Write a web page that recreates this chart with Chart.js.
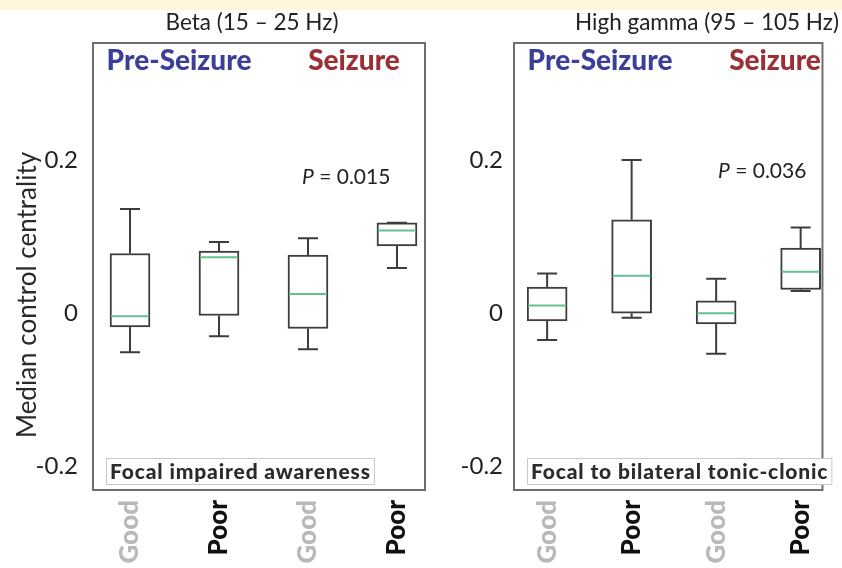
<!DOCTYPE html>
<html>
<head>
<meta charset="utf-8">
<script src="https://cdn.jsdelivr.net/npm/chart.js@4.4.1/dist/chart.umd.min.js"></script>
<style>
  html, body { margin: 0; padding: 0; background: #fff; }
  #page { position: relative; width: 842px; height: 568px; overflow: hidden; }
  .band { position: absolute; left: 0; top: 0; width: 842px; height: 10px; background: #fdf5dc; }
  .panel { position: absolute; top: 0; height: 568px; }
</style>
</head>
<body>
<div id="page">
  <div class="band"></div>
  <div class="panel" style="left:0;width:440px"><canvas id="beta" width="440" height="568"></canvas></div>
  <div class="panel" style="left:440px;width:402px"><canvas id="gamma" width="402" height="568"></canvas></div>
</div>
<script>
const categories = ['Good', 'Poor', 'Good', 'Poor'];
const yTicks = [-0.2, 0, 0.2];

// Beta (15 - 25 Hz)
const betaLow  = [-0.051, -0.030, -0.047, 0.059];
const betaQ1   = [-0.018, -0.003, -0.020, 0.088];
const betaMed  = [-0.004,  0.073,  0.025, 0.108];
const betaQ3   = [ 0.078,  0.081,  0.076, 0.118];
const betaHigh = [ 0.136,  0.093,  0.098, 0.118];

// High gamma (95 - 105 Hz)
const gammaLow  = [-0.035, -0.006, -0.053, 0.029];
const gammaQ1   = [-0.010,  0.000, -0.014, 0.031];
const gammaMed  = [ 0.010,  0.049,  0.000, 0.054];
const gammaQ3   = [ 0.034,  0.122,  0.016, 0.085];
const gammaHigh = [ 0.052,  0.200,  0.045, 0.112];

const COLORS = {
  box: '#3d3d3d',
  median: '#63c28c',
  frame: '#6e6e6e',
  pre: '#3c3f97',
  seizure: '#9b2f36',
  good: '#b9b9b9',
  poor: '#111111',
  text: '#222222',
};
const SANS = 'Lato, "Open Sans", sans-serif';
const HEAVY = 'Lato, "Open Sans", sans-serif';

const panelDecor = {
  id: 'panelDecor',
  afterDatasetsDraw(chart, args, o) {
    const { ctx, chartArea: a, scales: { x, y } } = chart;
    ctx.save();
    // whiskers and caps
    ctx.strokeStyle = COLORS.box;
    ctx.lineWidth = 2;
    o.low.forEach((lo, i) => {
      const px = x.getPixelForValue(i + 1);
      const yLo = y.getPixelForValue(lo);
      const yHi = y.getPixelForValue(o.high[i]);
      const yQ1 = y.getPixelForValue(o.q1[i]);
      const yQ3 = y.getPixelForValue(o.q3[i]);
      ctx.beginPath();
      ctx.moveTo(px, yQ3); ctx.lineTo(px, yHi);
      ctx.moveTo(px - 10, yHi); ctx.lineTo(px + 10, yHi);
      ctx.moveTo(px, yQ1); ctx.lineTo(px, yLo);
      ctx.moveTo(px - 10, yLo); ctx.lineTo(px + 10, yLo);
      ctx.stroke();
    });
    // medians
    ctx.strokeStyle = COLORS.median;
    o.med.forEach((m, i) => {
      const px = x.getPixelForValue(i + 1);
      const py = y.getPixelForValue(m);
      ctx.beginPath();
      ctx.moveTo(px - 19, py); ctx.lineTo(px + 19, py);
      ctx.stroke();
    });
    // frame
    ctx.strokeStyle = COLORS.frame;
    ctx.lineWidth = 2;
    ctx.strokeRect(a.left, a.top, a.right - a.left, a.bottom - a.top);

    // title
    ctx.fillStyle = COLORS.text;
    ctx.textAlign = 'center';
    ctx.textBaseline = 'middle';
    ctx.font = `22.5px ${SANS}`;
    ctx.fillText(o.title, o.titleX, 23);

    // group headers
    ctx.font = `900 28px ${HEAVY}`;
    ctx.fillStyle = COLORS.pre;
    ctx.fillText('Pre-Seizure', a.left + 86, 61);
    ctx.fillStyle = COLORS.seizure;
    ctx.fillText('Seizure', a.left + 261, 61);

    // p value
    ctx.textAlign = 'left';
    ctx.fillStyle = COLORS.text;
    ctx.font = `italic 21px ${SANS}`;
    const px0 = a.left + o.pX;
    ctx.fillText('P', px0, o.pY);
    const pw = ctx.measureText('P').width;
    ctx.font = `21px ${SANS}`;
    ctx.fillText(' = ' + o.pValue, px0 + pw, o.pY);

    // seizure type label
    ctx.font = `900 21px ${HEAVY}`;
    ctx.letterSpacing = '0.85px';
    const tw = ctx.measureText(o.label).width;
    const bx = a.left + 13, by = a.bottom - 32;
    ctx.fillStyle = '#fff';
    ctx.fillRect(bx, by, tw + 7, 26);
    ctx.strokeStyle = '#c9c9c9';
    ctx.lineWidth = 1;
    ctx.strokeRect(bx + 0.5, by + 0.5, tw + 7, 26);
    ctx.fillStyle = '#2b2b2b';
    ctx.fillText(o.label, bx + 4, by + 14);
    ctx.letterSpacing = '0px';

    // y axis title
    if (o.yTitle) {
      ctx.save();
      ctx.translate(28, 295);
      ctx.rotate(-Math.PI / 2);
      ctx.textAlign = 'center';
      ctx.font = `26px ${SANS}`;
      ctx.fillStyle = '#2a2a2a';
      ctx.fillText(o.yTitle, 0, 0);
      ctx.restore();
    }
    ctx.restore();
  }
};

function makePanel(id, s) {
  return new Chart(document.getElementById(id), {
    type: 'bar',
    data: {
      datasets: [{
        data: categories.map((c, i) => ({ x: i + 1, y: [s.q1[i], s.q3[i]] })),
        backgroundColor: '#ffffff',
        borderColor: COLORS.box,
        borderWidth: 2,
        borderSkipped: false,
        barThickness: 40,
      }],
    },
    options: {
      responsive: false,
      animation: false,
      events: [],
      layout: { padding: { top: 43, right: s.padRight, left: 0, bottom: 0 } },
      plugins: {
        legend: { display: false },
        tooltip: { enabled: false },
        panelDecor: s,
      },
      scales: {
        x: {
          type: 'linear',
          offset: false,
          min: s.xMin,
          max: s.xMax,
          grid: { display: false, drawTicks: false },
          border: { display: false },
          afterBuildTicks: sc => { sc.ticks = categories.map((c, i) => ({ value: i + 1 })); },
          afterFit: sc => { sc.height = 78; },
          ticks: {
            autoSkip: false,
            minRotation: 90,
            maxRotation: 90,
            padding: 10,
            font: { family: HEAVY, size: 26, weight: '900' },
            color: c => categories[c.index] === 'Good' ? COLORS.good : COLORS.poor,
            callback: (v, i) => categories[i],
          },
        },
        y: {
          min: -0.231,
          max: 0.353,
          grid: { display: false, drawTicks: false },
          border: { display: false },
          afterBuildTicks: sc => { sc.ticks = yTicks.map(v => ({ value: v })); },
          afterFit: sc => { sc.width = s.yWidth; },
          ticks: {
            padding: s.tickPad,
            font: { family: SANS, size: 24 },
            color: COLORS.text,
            callback: v => String(v),
          },
        },
      },
    },
    plugins: [panelDecor],
  });
}

makePanel('beta', {
  low: betaLow, q1: betaQ1, med: betaMed, q3: betaQ3, high: betaHigh,
  title: 'Beta (15 \u2013 25 Hz)', titleX: 252,
  pValue: '0.015', pX: 209, pY: 177,
  label: 'Focal impaired awareness',
  yTitle: 'Median control centrality',
  xMin: 0.584, xMax: 4.315, yWidth: 93, padRight: 15, tickPad: 15,
});

makePanel('gamma', {
  low: gammaLow, q1: gammaQ1, med: gammaMed, q3: gammaQ3, high: gammaHigh,
  title: 'High gamma (95 \u2013 105 Hz)', titleX: 267,
  pValue: '0.036', pX: 204, pY: 171,
  label: 'Focal to bilateral tonic-clonic',
  yTitle: null,
  xMin: 0.608, xMax: 4.258, yWidth: 74, padRight: 2, tickPad: 11,
});
</script>
</body>
</html>
